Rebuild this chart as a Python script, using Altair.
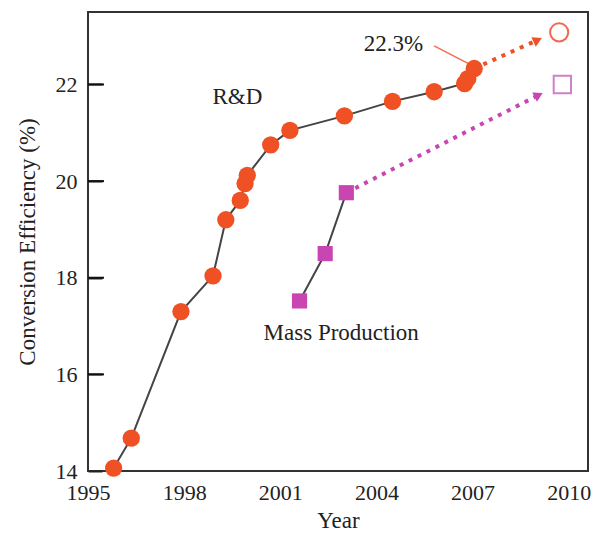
import altair as alt
import pandas as pd

# R&D cell efficiency
rd_years = [1995.8, 1996.35, 1997.9, 1998.9, 1999.3, 1999.75, 1999.9, 1999.97,
            2000.7, 2001.3, 2003.0, 2004.5, 2005.8, 2006.75, 2006.85, 2007.05]
rd_eff = [14.06, 14.68, 17.3, 18.04, 19.2, 19.6, 19.95, 20.12,
          20.75, 21.05, 21.35, 21.65, 21.85, 22.02, 22.12, 22.33]

# Mass production efficiency
mp_years = [2001.6, 2002.4, 2003.06]
mp_eff = [17.52, 18.5, 19.76]

# Projections (dotted) to 2010 targets
rd_proj_years = [2007.05, 2009.03]
rd_proj_eff = [22.33, 22.92]
mp_proj_years = [2003.06, 2009.06]
mp_proj_eff = [19.76, 21.78]

target_rd_year, target_rd_eff = 2009.7, 23.08
target_mp_year, target_mp_eff = 2009.8, 22.0

# annotation leader line for 22.3%
leader_years = [2005.8, 2006.9]
leader_eff = [22.8, 22.42]

x_ticks = [1995, 1998, 2001, 2004, 2007, 2010]
y_ticks = [14, 16, 18, 20, 22]
inner_tick_len = 0.5  # years

labels = ["R&D", "22.3%", "Mass Production"]
label_x = [1999.66, 2004.53, 2002.9]
label_y = [21.74, 22.84, 16.86]

ORANGE = "#EF5124"
MAGENTA = "#C946B2"
FONT = "Liberation Serif"

xs = alt.Scale(domain=[1995, 2010.6], nice=False, zero=False)
ys = alt.Scale(domain=[14, 23.5], nice=False, zero=False)

x_axis = alt.Axis(values=x_ticks, format="d", title="Year", tickSize=0,
                  labelPadding=11, labelFlush=False, titlePadding=6)
y_axis = alt.Axis(values=y_ticks, format="d", title="Conversion Efficiency (%)",
                  ticks=True, tickSize=14, tickWidth=2, tickColor="#222",
                  offset=-14, labelPadding=11, titlePadding=16)

X = lambda f, ax=None: alt.X(f + ":Q", scale=xs, axis=ax) if ax is not None else alt.X(f + ":Q", scale=xs)
Y = lambda f, ax=None: alt.Y(f + ":Q", scale=ys, axis=ax) if ax is not None else alt.Y(f + ":Q", scale=ys)

rd = pd.DataFrame({"year": rd_years, "eff": rd_eff, "i": range(len(rd_years))})
mp = pd.DataFrame({"year": mp_years, "eff": mp_eff, "i": range(len(mp_years))})
rdp = pd.DataFrame({"year": rd_proj_years, "eff": rd_proj_eff})
mpp = pd.DataFrame({"year": mp_proj_years, "eff": mp_proj_eff})
lead = pd.DataFrame({"year": leader_years, "eff": leader_eff})
arrows = pd.DataFrame({"year": [rd_proj_years[1], mp_proj_years[1]],
                       "eff": [rd_proj_eff[1], mp_proj_eff[1]],
                       "c": [ORANGE, MAGENTA], "a": [335, 333]})
txt = pd.DataFrame({"t": labels, "year": label_x, "eff": label_y})
n_t = len(y_ticks) - 1
yt = pd.DataFrame({"eff": [float(v) for v in y_ticks[1:]],
                   "x0": [float(x_ticks[0])] * n_t,
                   "x1": [x_ticks[0] + inner_tick_len] * n_t})

l_rd = alt.Chart(rd).mark_line(color="#444", strokeWidth=2).encode(
    x=X("year", x_axis), y=Y("eff", y_axis), order="i:Q")
l_mp = alt.Chart(mp).mark_line(color="#444", strokeWidth=2).encode(x=X("year"), y=Y("eff"), order="i:Q")
d_rd = alt.Chart(rdp).mark_line(color=ORANGE, strokeWidth=4, strokeDash=[4, 6]).encode(x=X("year"), y=Y("eff"))
d_mp = alt.Chart(mpp).mark_line(color=MAGENTA, strokeWidth=4, strokeDash=[4, 6]).encode(x=X("year"), y=Y("eff"))
p_rd = alt.Chart(rd).mark_point(shape="circle", filled=True, size=300, color=ORANGE, opacity=1).encode(x=X("year"), y=Y("eff"))
p_mp = alt.Chart(mp).mark_point(shape="square", filled=True, size=230, color=MAGENTA, opacity=1).encode(x=X("year"), y=Y("eff"))
arr = alt.Chart(arrows).mark_point(shape="triangle-right", filled=True, size=110, opacity=1).encode(
    x=X("year"), y=Y("eff"), color=alt.Color("c:N", scale=None), angle=alt.Angle("a:Q", scale=None))
o_rd = alt.Chart(pd.DataFrame({"year": [target_rd_year], "eff": [target_rd_eff]})).mark_point(
    shape="circle", filled=False, size=330, color="#EE6A4E", strokeWidth=2, opacity=1).encode(x=X("year"), y=Y("eff"))
o_mp = alt.Chart(pd.DataFrame({"year": [target_mp_year], "eff": [target_mp_eff]})).mark_point(
    shape="square", filled=False, size=300, color="#CF80C8", strokeWidth=2, opacity=1).encode(x=X("year"), y=Y("eff"))
ld = alt.Chart(lead).mark_line(color="#F07050", strokeWidth=1.5).encode(x=X("year"), y=Y("eff"))
t = alt.Chart(txt).mark_text(font=FONT, fontSize=23, color="#222", baseline="middle", align="center").encode(
    x=X("year"), y=Y("eff"), text="t:N")
ticks = alt.Chart(yt).mark_rule(color="#111", strokeWidth=2).encode(
    x=X("x0"), x2="x1:Q", y=Y("eff"))

chart = alt.layer(l_rd, l_mp, d_rd, d_mp, ld, p_rd, p_mp, arr, o_rd, o_mp, t, ticks).properties(
    width=500, height=459,
    autosize=alt.AutoSizeParams(type="none"),
    padding={"left": 88, "top": 12, "right": 5, "bottom": 67},
    background="white",
).configure_view(stroke="#333", strokeWidth=2).configure_axis(
    domain=False, grid=False, labelFont=FONT, labelFontSize=22, labelColor="#222",
    titleFont=FONT, titleFontSize=23, titleFontWeight="normal", titleColor="#222",
)

chart.save("out.html", embed_options={"renderer": "svg", "actions": False})
